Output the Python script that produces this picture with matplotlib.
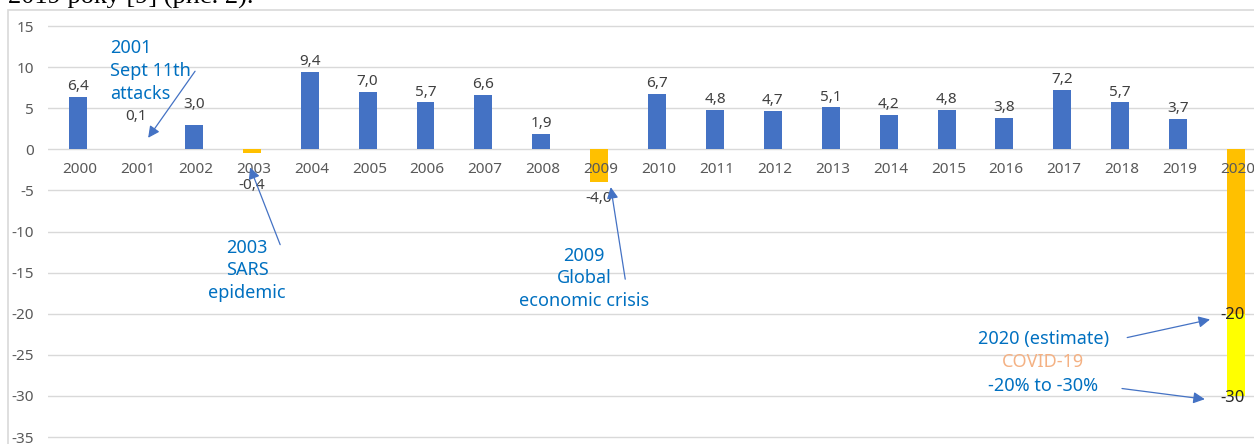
import matplotlib.pyplot as plt
from matplotlib.patches import Rectangle

# growth of international tourist arrivals, %
years = [str(y) for y in range(2000, 2021)]
growth = [6.4, 0.1, 3.0, -0.4, 9.4, 7.0, 5.7, 6.6, 1.9, -4.0,
          6.7, 4.8, 4.7, 5.1, 4.2, 4.8, 3.8, 7.2, 5.7, 3.7, -20.0]
labels = ['6,4', '0,1', '3,0', '-0,4', '9,4', '7,0', '5,7', '6,6', '1,9', '-4,0',
          '6,7', '4,8', '4,7', '5,1', '4,2', '4,8', '3,8', '7,2', '5,7', '3,7', '-20']
crisis_years = ['2001', '2003', '2009', '2020']
# 2020 estimate: range from -20 to -30
est_low = -30.0
yticks = [15, 10, 5, 0, -5, -10, -15, -20, -25, -30, -35]

# labels that were moved by hand in the original (extra offset in points)
label_shift = {'2001': 16, '2002': 7}

BLUE = '#4472C4'
ORANGE = '#FFC000'
YELLOW = '#FFFF00'
TXT = '#0070C0'
GREY = '#595959'

plt.rcParams['font.family'] = ['Noto Sans', 'DejaVu Sans']

W, H = 1254, 444
fig = plt.figure(figsize=(W / 100, H / 100), dpi=100)
ax = fig.add_axes([48 / W, 0, 1 - 48 / W, 1 - 10 / H])

x = list(range(len(years)))
colors = [ORANGE if y in crisis_years else BLUE for y in years]
ax.bar(x, growth, width=0.31, color=colors, zorder=2)
# lower part of the 2020 estimate
i20 = years.index('2020')
ax.bar(i20, est_low - growth[i20], bottom=growth[i20], width=0.31, color=YELLOW, zorder=2)

ax.set_xlim(-0.52, 20.31)
ax.set_ylim(-35.85, 16.95)
ax.set_yticks(yticks)
ax.set_yticklabels([str(t) for t in yticks])
ax.tick_params(axis='y', length=0, pad=10, labelsize=11, labelcolor=GREY)
ax.set_xticks([])
ax.grid(axis='y', color='#D9D9D9', lw=1, zorder=0)
for s in ax.spines.values():
    s.set_visible(False)

# year labels just below zero line
for i, y in enumerate(years):
    ax.text(i + 0.03, -2.4, y, ha='center', va='center', fontsize=11, color=GREY, zorder=3)

# value labels
for i, (v, lab) in enumerate(zip(growth, labels)):
    if i == i20:
        continue
    if v >= 0:
        dy = 2 + label_shift.get(years[i], 0)
        ax.annotate(lab, (i, v), xytext=(0, dy), textcoords='offset points',
                    ha='center', va='bottom', fontsize=11, color='#404040', zorder=3)
    else:
        ax.annotate(lab, (i, min(v, -2.5)), xytext=(0, -6), textcoords='offset points',
                    ha='center', va='top', fontsize=11, color='#404040', zorder=3)
ax.text(i20 - 0.06, growth[i20] - 0.2, labels[i20], ha='center', va='center',
        fontsize=12, color='#262626', zorder=3)
ax.text(i20 - 0.06, est_low - 0.2, '-30', ha='center', va='center',
        fontsize=12, color='#262626', zorder=3)

# event annotations
arrow = dict(arrowstyle='-|>', color=BLUE, lw=0.9, mutation_scale=17, shrinkA=0, shrinkB=0)
for yy, line in zip([12.3, 9.5, 6.7], ['2001', 'Sept 11th', 'attacks']):
    ax.text(0.55, yy, line, ha='left', va='center', fontsize=13, color=TXT)
ax.annotate('', xy=(1.21, 1.4), xytext=(2.02, 9.5), arrowprops=arrow)

ax.text(2.92, -14.7, '2003\nSARS\nepidemic', ha='center', va='center',
        fontsize=13, color=TXT, linespacing=1.33)
ax.annotate('', xy=(2.97, -2.2), xytext=(3.49, -11.6), arrowprops=arrow)

ax.text(8.74, -15.7, '2009\nGlobal\neconomic crisis', ha='center', va='center',
        fontsize=13, color=TXT, linespacing=1.33)
ax.annotate('', xy=(9.2, -4.6), xytext=(9.45, -15.8), arrowprops=arrow)

ax.text(16.67, -23.1, '2020 (estimate)', ha='center', va='center', fontsize=13, color=TXT)
ax.text(16.67, -25.9, 'COVID-19', ha='center', va='center', fontsize=13, color='#F4B183')
ax.text(16.67, -28.8, '-20% to -30%', ha='center', va='center', fontsize=13, color=TXT)
ax.annotate('', xy=(19.55, -20.7), xytext=(18.12, -22.9), arrowprops=arrow)
ax.annotate('', xy=(19.46, -30.4), xytext=(18.03, -29.1), arrowprops=arrow)

# chart frame
fig.patches.append(Rectangle((8 / W, -0.1), 1.2, 1 - 10 / H + 0.1, transform=fig.transFigure,
                             fill=False, ec='#D9D9D9', lw=1.2))

# cut-off line of the surrounding document
fig.text(8 / W, 1 - 4 / H, '2019 року [9] (рис. 2).', ha='left', va='baseline',
         fontsize=19, family='Liberation Serif', color='black')

fig.savefig('out.png', dpi=100)
